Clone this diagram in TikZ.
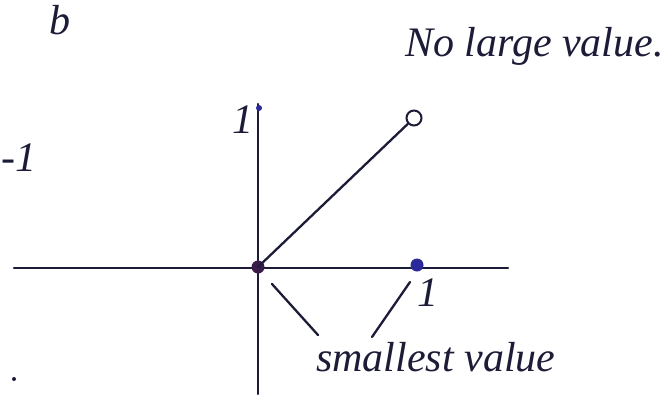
\documentclass[tikz,border=0pt]{standalone}
\usepackage{fontspec}
\setmainfont{Liberation Serif}
\begin{document}
\begin{tikzpicture}[x=1pt,y=-1pt,
  ink/.style={draw=inkc,line width=2.3pt,line cap=round},
  hand/.style={text=inkc,font=\itshape\fontsize{42}{44}\selectfont,inner sep=0pt},
  dotf/.style={circle,fill=#1,inner sep=0pt,minimum size=13pt}]
\definecolor{inkc}{HTML}{1C1C38}
\definecolor{dotb}{HTML}{2A2A9A}
\definecolor{doto}{HTML}{3A1A4A}
\useasboundingbox (0,0) rectangle (667,394);
\clip (0,0) rectangle (667,394);
% axes
\coordinate (xl) at (14,268);
\coordinate (xr) at (508,268);
\coordinate (yt) at (258,104);
\coordinate (yb) at (258,394);
\draw[ink] (xl) -- (xr);
\draw[ink] (yt) -- (yb);
% points
\node[dotf=doto] (o) at (258,267) {};
\node[dotf=dotb] (p1) at (417,265) {};
\node[circle,draw=inkc,line width=2pt,inner sep=0pt,minimum size=15pt] (q) at (414,118) {};
\node[circle,fill=dotb,inner sep=0pt,minimum size=6pt] (t1) at (259,108) {};
\draw[ink] (o.center) -- (q);
% labels
\node[hand] (l1) at (243,120) {1};
\node[hand] (lx1) at (428,293) {1};
\node[hand,anchor=west] (lm1) at (1,158) {-1};
\node[hand,anchor=north] (lb) at (60,5) {b};
\node[hand,anchor=west] (nl) at (405,46) {No large value.};
\node[hand,anchor=west] (sv) at (316,357) {smallest value};
\node[circle,fill=inkc,inner sep=0pt,minimum size=4pt] (dt) at (14,379) {};
% pointers
\coordinate (a1) at (272,284);
\coordinate (a2) at (318,335);
\coordinate (b1) at (410,282);
\coordinate (b2) at (372,337);
\draw[ink] (a1) -- (a2);
\draw[ink] (b1) -- (b2);
\end{tikzpicture}
\end{document}
